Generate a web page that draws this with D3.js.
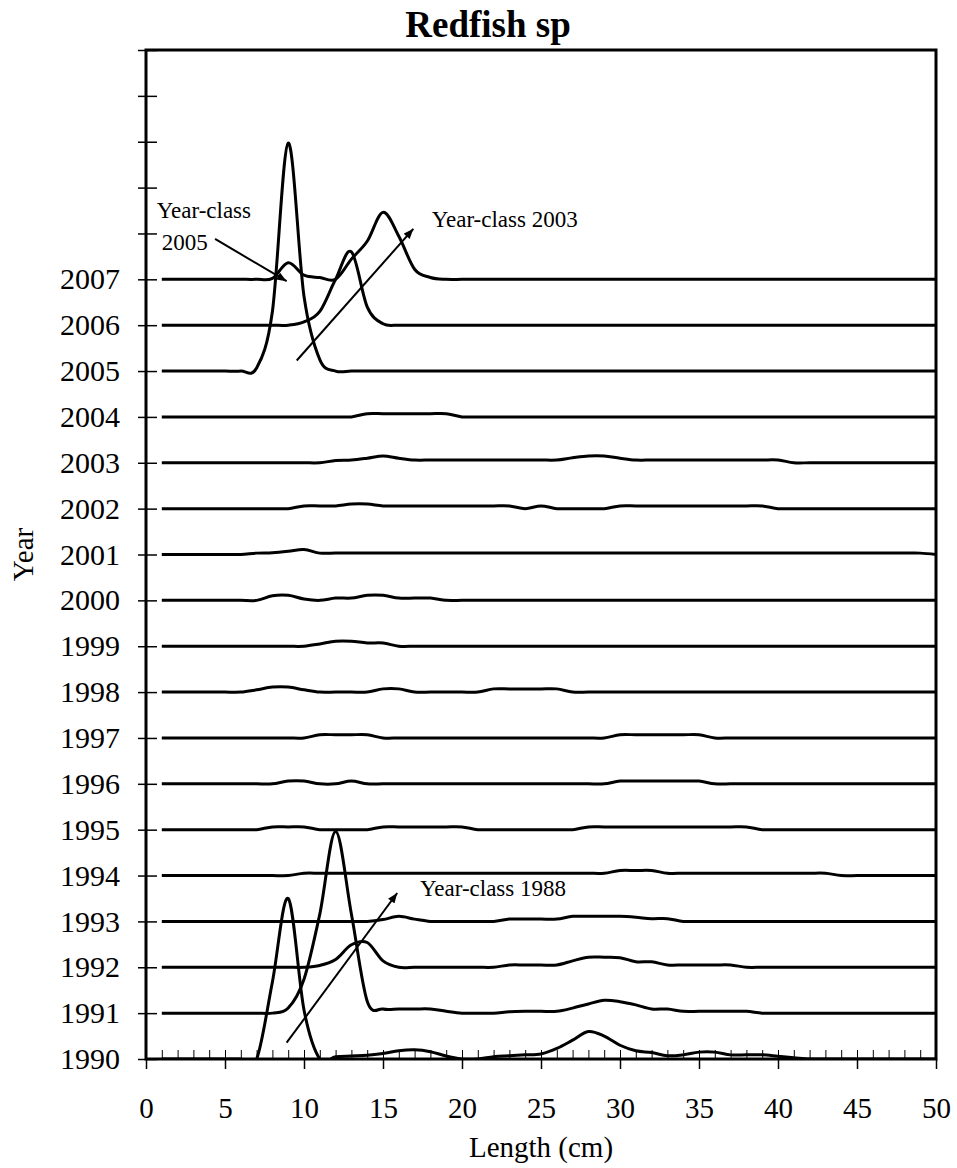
<!DOCTYPE html>
<html><head><meta charset="utf-8">
<script src="https://cdn.jsdelivr.net/npm/d3@7"></script>
<style>
body{margin:0;background:#fff;}
svg{display:block;}
text{font-family:"Liberation Serif","Times New Roman",serif;fill:#000;}
</style>
</head><body>
<svg id="chart" width="957" height="1168"></svg>
<script>
// ---------- data ----------
const lengths = [1,2,3,4,5,6,7,8,9,10,11,12,13,14,15,16,17,18,19,20,21,22,23,24,25,26,27,28,29,30,31,32,33,34,35,36,37,38,39,40,41,42,43,44,45,46,47,48,49,50];
const years = [1990,1991,1992,1993,1994,1995,1996,1997,1998,1999,2000,2001,2002,2003,2004,2005,2006,2007];
const xTickLabels = [0,5,10,15,20,25,30,35,40,45,50];

const freq1990 = [0,0,0,0,0,0,0,16.8,35,10.7, 0,0.5,0.65,0.8,1.2,1.8,2.0,1.6,0.65,0, 0,0.5,0.7,0.9,1.1,2.3,4.1,6.0,5.0,3.0, 1.8,1.4,0.7,0.9,1.5,1.5,0.9,0.9,0.9,0.6, 0.3,0,0,0,0,0,0,0,0,0];
const freq1991 = [0,0,0,0,0,0,0,0,1.1,7.4, 21.6,39.6,21.6,2.6,0.9,0.9,0.9,0.9,0.4,0, 0,0,0.3,0.4,0.4,0.4,1.1,2.0,2.8,2.5, 1.8,0.9,0.9,0.4,0.4,0.4,0.4,0.4,0,0, 0,0,0,0,0,0,0,0,0,0];
const freq1992 = [0,0,0,0,0,0,0,0,0,0, 0.4,1.7,4.9,5.4,1.4,0,0,0,0,0, 0,0,0.5,0.5,0.5,0.5,1.4,2.2,2.2,2.1, 1.2,1.2,0.5,0.5,0.5,0.5,0.5,0,0,0, 0,0,0,0,0,0,0,0,0,0];
const freq1993 = [0,0,0,0,0,0,0,0,0,0, 0,0,0,0,0.4,1.1,0.5,0,0,0, 0,0,0.5,0.5,0.5,0.5,1.1,1.1,1.1,1.1, 0.9,0.6,0.6,0,0,0,0,0,0,0, 0,0,0,0,0,0,0,0,0,0];
const freq1994 = [0,0,0,0,0,0,0,0,0,0.5, 0.5,0.5,0.5,0.5,0.5,0.5,0.5,0.5,0.5,0.5, 0.5,0.5,0.5,0.5,0.5,0.5,0.5,0.5,0.5,1.1, 1.1,1.1,0.5,0.5,0.5,0.5,0.5,0.5,0.5,0.5, 0.5,0.5,0.5,0,0,0,0,0,0,0];
const freq1995 = [0,0,0,0,0,0,0,0.6,0.6,0.6, 0,0,0,0,0.6,0.6,0.6,0.6,0.6,0.6, 0,0,0,0,0,0,0,0.6,0.6,0.6, 0.6,0.6,0.6,0.6,0.6,0.6,0.6,0.6,0,0, 0,0,0,0,0,0,0,0,0,0];
const freq1996 = [0,0,0,0,0,0,0,0,0.6,0.6, 0,0,0.6,0,0,0,0,0,0,0, 0,0,0,0,0,0,0,0,0,0.6, 0.6,0.6,0.6,0.6,0.6,0,0,0,0,0, 0,0,0,0,0,0,0,0,0,0];
const freq1997 = [0,0,0,0,0,0,0,0,0,0, 0.7,0.7,0.7,0.7,0,0,0,0,0,0, 0,0,0,0,0,0,0,0,0,0.7, 0.7,0.7,0.7,0.7,0.7,0,0,0,0,0, 0,0,0,0,0,0,0,0,0,0];
const freq1998 = [0,0,0,0,0,0,0.5,1.1,1.1,0.5, 0,0,0,0,0.7,0.7,0,0,0,0, 0,0.7,0.7,0.7,0.7,0.7,0,0,0,0, 0,0,0,0,0,0,0,0,0,0, 0,0,0,0,0,0,0,0,0,0];
const freq1999 = [0,0,0,0,0,0,0,0,0,0, 0.5,1.1,1.1,0.7,0.7,0,0,0,0,0, 0,0,0,0,0,0,0,0,0,0, 0,0,0,0,0,0,0,0,0,0, 0,0,0,0,0,0,0,0,0,0];
const freq2000 = [0,0,0,0,0,0,0,1.0,1.1,0.3, 0,0.5,0.5,1.1,1.1,0.5,0.5,0.5,0,0, 0,0,0,0,0,0,0,0,0,0, 0,0,0,0,0,0,0,0,0,0, 0,0,0,0,0,0,0,0,0,0];
const freq2001 = [0,0,0,0,0,0,0.3,0.4,0.7,1.1, 0.3,0.3,0.3,0.3,0.3,0.3,0.3,0.3,0.3,0.3, 0.3,0.3,0.3,0.3,0.3,0.3,0.3,0.3,0.3,0.3, 0.3,0.3,0.3,0.3,0.3,0.3,0.3,0.3,0.3,0.3, 0.3,0.3,0.3,0.3,0.3,0.3,0.3,0.3,0.3,0];
const freq2002 = [0,0,0,0,0,0,0,0,0,0.6, 0.6,0.6,1.0,1.0,0.6,0.6,0.6,0.6,0.6,0.6, 0.6,0.6,0.6,0,0.6,0,0,0,0,0.6, 0.6,0.6,0.6,0.6,0.6,0.6,0.6,0.6,0.6,0, 0,0,0,0,0,0,0,0,0,0];
const freq2003 = [0,0,0,0,0,0,0,0,0,0, 0,0.5,0.6,1.0,1.5,1.0,0.6,0.6,0.6,0.6, 0.6,0.6,0.6,0.6,0.6,0.6,1.1,1.5,1.5,1.0, 0.6,0.6,0.6,0.6,0.6,0.6,0.6,0.6,0.6,0.6, 0,0,0,0,0,0,0,0,0,0];
const freq2004 = [0,0,0,0,0,0,0,0,0,0, 0,0,0,0.7,0.7,0.7,0.7,0.7,0.7,0, 0,0,0,0,0,0,0,0,0,0, 0,0,0,0,0,0,0,0,0,0, 0,0,0,0,0,0,0,0,0,0];
const freq2005 = [0,0,0,0,0,0,0.65,13,49.7,16.3, 2.5,0,0,0,0,0,0,0,0,0, 0,0,0,0,0,0,0,0,0,0, 0,0,0,0,0,0,0,0,0,0, 0,0,0,0,0,0,0,0,0,0];
const freq2006 = [0,0,0,0,0,0,0,0,0,0.7, 3,10,16,4,0.3,0,0,0,0,0, 0,0,0,0,0,0,0,0,0,0, 0,0,0,0,0,0,0,0,0,0, 0,0,0,0,0,0,0,0,0,0];
const freq2007 = [0,0,0,0,0,0,0,0.2,3.6,0.9, 0.4,0,4.4,8.3,14.6,9.4,2.2,0.4,0,0, 0,0,0,0,0,0,0,0,0,0, 0,0,0,0,0,0,0,0,0,0, 0,0,0,0,0,0,0,0,0,0];

const allFreq = [freq1990,freq1991,freq1992,freq1993,freq1994,freq1995,freq1996,freq1997,freq1998,freq1999,freq2000,freq2001,freq2002,freq2003,freq2004,freq2005,freq2006,freq2007];

// annotations (data coordinates: length cm, stacked units)
const annotTexts = [
  {text:"Year-class", x:0.68, y:183.4},
  {text:"2005", x:0.99, y:176.5},
  {text:"Year-class 2003", x:18.08, y:181.5},
  {text:"Year-class 1988", x:17.34, y:35.5}
];
const annotArrows = [
  {x1:4.37, y1:178.8, x2:8.9, y2:169.6},
  {x1:9.54, y1:152.3, x2:16.92, y2:181.0},
  {x1:8.9, y1:3.55, x2:15.9, y2:36.2}
];

// ---------- layout ----------
const STEP = 10;           // vertical offset between successive years
const NSTEPS = 22;         // axis spans 22 steps (1990 .. 2012)
const svg = d3.select("#chart");
const x = d3.scaleLinear().domain([0,50]).range([146,936]);
const y = d3.scaleLinear().domain([0,NSTEPS*STEP]).range([1059,50]);

svg.append("defs").append("clipPath").attr("id","plotclip")
  .append("rect").attr("x",x(0)).attr("y",y(NSTEPS*STEP)).attr("width",x(50)-x(0)).attr("height",y(0)-y(NSTEPS*STEP));

svg.select("defs").append("marker").attr("id","arrowhead")
  .attr("viewBox","0 0 10 8").attr("refX",10).attr("refY",4)
  .attr("markerWidth",11).attr("markerHeight",8).attr("markerUnits","userSpaceOnUse")
  .attr("orient","auto")
  .append("path").attr("d","M0,0 L10,4 L0,8 Z").attr("fill","#000");

// series
const line = d3.line()
  .x(d => x(d.len))
  .y(d => y(d.off + d.v))
  .curve(d3.curveCardinal.tension(0));

const seriesG = svg.append("g").attr("clip-path","url(#plotclip)");
years.forEach((yr,i) => {
  const off = i*STEP;
  const pts = lengths.map((L,j) => ({len:L, v:allFreq[i][j], off:off}));
  seriesG.append("path").datum(pts)
    .attr("d",line).attr("fill","none").attr("stroke","#000")
    .attr("stroke-width",3).attr("stroke-linejoin","round");
});

// y axis
const yTickVals = d3.range(0, NSTEPS+1).map(k => k*STEP);
const yAxis = d3.axisLeft(y).tickValues(yTickVals)
  .tickFormat(v => { const k = Math.round(v/STEP); return k < years.length ? years[k] : ""; })
  .tickSize(8);
const gy = svg.append("g").attr("transform",`translate(${x(0)},0)`).call(yAxis);
gy.select(".domain").remove();
gy.selectAll(".tick line").attr("x1",-8).attr("x2",11).attr("stroke","#000").attr("stroke-width",1.5);
gy.selectAll(".tick text").attr("x",-26).attr("font-size",30).attr("font-family","Liberation Serif").attr("fill","#000");

// x axis: minor inward ticks every cm
const xMinor = d3.axisBottom(x).tickValues(lengths.concat([0])).tickSize(-9).tickFormat("");
const gxm = svg.append("g").attr("transform",`translate(0,${y(0)})`).call(xMinor);
gxm.select(".domain").remove();
gxm.selectAll(".tick line").attr("stroke","#000").attr("stroke-width",1);

// x axis: major outward ticks with labels
const xMajor = d3.axisBottom(x).tickValues(xTickLabels).tickSize(10).tickFormat(d3.format("d"));
const gx = svg.append("g").attr("transform",`translate(0,${y(0)})`).call(xMajor);
gx.select(".domain").remove();
gx.selectAll(".tick line").attr("stroke","#000").attr("stroke-width",1.5);
gx.selectAll(".tick text").attr("y",59).attr("dy",null).attr("font-size",29).attr("font-family","Liberation Serif").attr("fill","#000");

// frame
svg.append("rect").attr("x",x(0)).attr("y",y(NSTEPS*STEP))
  .attr("width",x(50)-x(0)).attr("height",y(0)-y(NSTEPS*STEP))
  .attr("fill","none").attr("stroke","#000").attr("stroke-width",3);

// titles
svg.append("text").attr("x",488).attr("y",37).attr("text-anchor","middle")
  .attr("font-size",37).attr("font-weight","bold").text("Redfish sp");
svg.append("text").attr("x",541).attr("y",1157).attr("text-anchor","middle")
  .attr("font-size",29).text("Length (cm)");
svg.append("text").attr("transform",`translate(33,${(y(0)+y(NSTEPS*STEP))/2}) rotate(-90)`)
  .attr("text-anchor","middle").attr("font-size",29).text("Year");

// annotations
annotArrows.forEach(a => {
  svg.append("line").attr("x1",x(a.x1)).attr("y1",y(a.y1)).attr("x2",x(a.x2)).attr("y2",y(a.y2))
    .attr("stroke","#000").attr("stroke-width",2).attr("marker-end","url(#arrowhead)");
});
annotTexts.forEach(t => {
  svg.append("text").attr("x",x(t.x)).attr("y",y(t.y)).attr("font-size",23).text(t.text);
});
</script>
</body></html>
